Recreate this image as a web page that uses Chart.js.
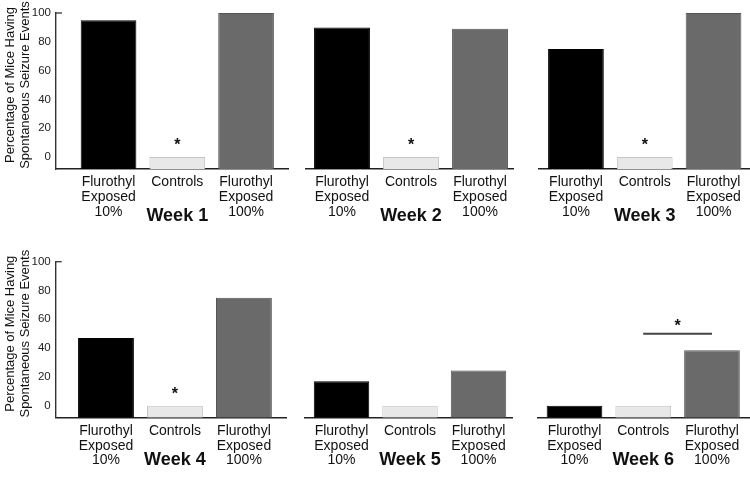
<!DOCTYPE html>
<html><head><meta charset="utf-8">
<script src="https://cdn.jsdelivr.net/npm/chart.js@4/dist/chart.umd.min.js"></script>
<style>
html,body{margin:0;padding:0;background:#fff;width:750px;height:478px;overflow:hidden;position:relative}
canvas{position:absolute}
</style></head><body>
<script>
// ---------- data ----------
const categories = [["Flurothyl","Exposed","10%"],["Controls"],["Flurothyl","Exposed","100%"]];
const categoryPositions = [1,2,3];
const weekLabels = ["Week 1","Week 2","Week 3","Week 4","Week 5","Week 6"];
const exposed10  = [95, 90, 75, 47, 17, 0];
const controls   = [0, 0, 0, 0, 0, 0];
const exposed100 = [100, 89, 100, 75, 24.5, 38.5];
const yTicks = [0, 20, 40, 60, 80, 100];
const yMin = -8.3, yMax = 100;
const yTitle = ["Percentage of Mice Having","Spontaneous Seizure Events"];
const starX = [2, 2, 2, 2, null, 2.5];
const starY = [11, 11, 11, 11, null, 58];
const sigLineY    = [null, null, null, null, null, 50];
const sigLineFrom = [null, null, null, null, null, 2];
const sigLineTo   = [null, null, null, null, null, 3];

// ---------- layout / style ----------
const FONT = "'Liberation Sans', Arial, Helvetica, sans-serif";
const barColors  = ['#000000', '#e8e8e8', '#6a6a6a'];
const barBorders = ['#000000', '#c4c4c4', '#555555'];
const panels = [
  {left:0,   top:0,   w:292, h:240, area:[56,   13,    288, 169],   xr:[0.236,3.61],  yAxis:true,  weekDy:47},
  {left:296, top:0,   w:222, h:240, area:[305.7,13,    513, 169],   xr:[0.474,3.478], yAxis:false, weekDy:47},
  {left:528, top:0,   w:222, h:240, area:[539,  13,    750, 169],   xr:[0.463,3.53],  yAxis:false, weekDy:47},
  {left:0,   top:240, w:292, h:238, area:[55.7, 261.7, 286, 417.7], xr:[0.271,3.61],  yAxis:true,  weekDy:42},
  {left:296, top:240, w:222, h:238, area:[305,  261.7, 512, 417.7], xr:[0.467,3.489], yAxis:false, weekDy:42},
  {left:528, top:240, w:222, h:238, area:[538,  261.7, 750, 417.7], xr:[0.469,3.553], yAxis:false, weekDy:42}
];

const annotPlugin = {
  id: 'annot',
  afterDatasetsDraw(chart, args, opts) {
    const ctx = chart.ctx, xs = chart.scales.x, ys = chart.scales.y, ca = chart.chartArea;
    ctx.save();
    ctx.fillStyle = '#111';
    ctx.textAlign = 'center';
    if (opts.starX != null) {
      const fs = 16;
      ctx.font = 'bold ' + fs + 'px ' + FONT;
      ctx.textBaseline = 'alphabetic';
      ctx.fillText('*', xs.getPixelForValue(opts.starX), ys.getPixelForValue(opts.starY) + 0.57 * fs);
    }
    ctx.font = 'bold 18px ' + FONT;
    ctx.textBaseline = 'middle';
    ctx.fillText(opts.week, xs.getPixelForValue(2), ca.bottom + opts.weekDy);
    if (opts.yTitle) {
      // small cap at the top of the value axis
      ctx.strokeStyle = '#333';
      ctx.lineWidth = 1.3;
      ctx.beginPath();
      const yt = ys.getPixelForValue(yMax);
      ctx.moveTo(ca.left, yt); ctx.lineTo(ca.left + 6, yt);
      ctx.stroke();
      // rotated two-line axis title
      ctx.font = '13px ' + FONT;
      ctx.translate(10, (ca.top + ca.bottom) / 2 - 6);
      ctx.rotate(-Math.PI / 2);
      opts.yTitle.forEach((t, k) => ctx.fillText(t, 0, k * 15));
    }
    ctx.restore();
  }
};

panels.forEach((p, i) => {
  const cv = document.createElement('canvas');
  cv.width = p.w; cv.height = p.h;
  cv.style.left = p.left + 'px'; cv.style.top = p.top + 'px';
  cv.style.width = p.w + 'px'; cv.style.height = p.h + 'px';
  document.body.appendChild(cv);

  const yWidth = p.yAxis ? (p.area[0] - p.left) : 0;
  const xHeight = (p.top + p.h) - p.area[3];

  const datasets = [{
    type: 'bar',
    data: categoryPositions.map((x, k) => ({x: x, y: [exposed10[i], controls[i], exposed100[i]][k]})),
    backgroundColor: barColors,
    borderColor: barBorders,
    borderWidth: 1,
    base: yMin,
    barPercentage: 0.81,
    categoryPercentage: 1
  }];
  if (sigLineY[i] != null) {
    datasets.push({
      type: 'line',
      data: [{x: sigLineFrom[i], y: sigLineY[i]}, {x: sigLineTo[i], y: sigLineY[i]}],
      borderColor: '#444',
      borderWidth: 2,
      pointRadius: 0,
      fill: false
    });
  }

  new Chart(cv, {
    type: 'bar',
    data: { datasets },
    plugins: [annotPlugin],
    options: {
      responsive: false,
      animation: false,
      devicePixelRatio: 1,
      layout: { padding: {
        left: p.yAxis ? 0 : p.area[0] - p.left,
        top: p.area[1] - p.top,
        right: (p.left + p.w) - p.area[2],
        bottom: 0
      }},
      plugins: {
        legend: { display: false },
        tooltip: { enabled: false },
        annot: { week: weekLabels[i], starX: starX[i], starY: starY[i], weekDy: p.weekDy,
                 yTitle: p.yAxis ? yTitle : null }
      },
      scales: {
        x: {
          type: 'linear',
          offset: false,
          min: p.xr[0], max: p.xr[1],
          grid: { display: false, drawTicks: false },
          border: { display: true, color: '#222', width: 1.6 },
          afterBuildTicks: s => { s.ticks = categoryPositions.map(v => ({value: v})); },
          afterFit: s => { s.height = xHeight; },
          ticks: {
            autoSkip: false, maxRotation: 0, padding: 6,
            color: '#111',
            font: { family: FONT, size: 14, lineHeight: 1.05 },
            callback: v => categories[categoryPositions.indexOf(v)]
          }
        },
        y: {
          display: p.yAxis,
          min: yMin, max: yMax,
          grid: { display: false, drawTicks: false },
          border: { display: true, color: '#333', width: 1.4 },
          afterBuildTicks: s => { s.ticks = yTicks.map(v => ({value: v})); },
          afterFit: s => { s.width = yWidth; },
          ticks: { padding: 5, color: '#222', font: { family: FONT, size: 11.5 } }
        }
      }
    }
  });
});
</script>
</body></html>
